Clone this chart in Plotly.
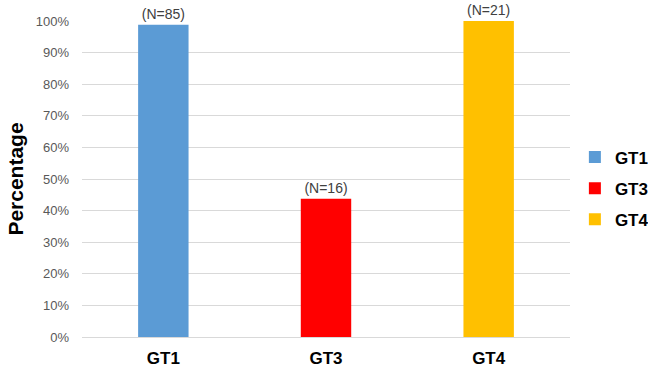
import plotly.graph_objects as go

categories = ["GT1", "GT3", "GT4"]
values = [0.988, 0.4375, 1.0]
labels = ["(N=85)", "(N=16)", "(N=21)"]
colors = ["#5B9BD5", "#FF0000", "#FFC000"]

fig = go.Figure()
for c, v, t, col in zip(categories, values, labels, colors):
    fig.add_trace(go.Bar(
        x=[c], y=[v], name="<b>" + c + "</b>", marker=dict(color=col, line=dict(width=0)),
        width=0.31, text=[t], textposition="outside", cliponaxis=False,
        textfont=dict(size=14, color="#404040", family="Liberation Sans"),
        offsetgroup="a", legendgroup=c,
    ))

fig.update_layout(
    width=648, height=371,
    margin=dict(l=82, r=78, t=21, b=34, autoexpand=False),
    plot_bgcolor="white", paper_bgcolor="white",
    barmode="overlay",
    font=dict(family="Liberation Sans", color="#000000"),
    showlegend=True,
    legend=dict(x=1.01, y=0.47, xanchor="left", yanchor="middle",
                font=dict(size=17, color="#000000", family="Liberation Sans"),
                itemwidth=30, tracegroupgap=6, traceorder="grouped",
                bgcolor="rgba(0,0,0,0)"),
)
fig.update_xaxes(
    categoryorder="array", categoryarray=categories,
    tickfont=dict(size=17, color="#000000", family="Liberation Sans"),
    tickprefix="<b>", ticksuffix="</b>",
    showline=True, linecolor="#d9d9d9", linewidth=1,
    ticks="", ticklabelstandoff=6,
)
fig.update_yaxes(
    range=[0, 1.0], dtick=0.1, tickformat=".0%",
    tickfont=dict(size=13, color="#595959", family="Liberation Sans"),
    showgrid=True, gridcolor="#d9d9d9", gridwidth=1,
    zeroline=False, showline=False, ticklabelstandoff=12,
    title=dict(text="<b>Percentage</b>", font=dict(size=21, color="#000000", family="Liberation Sans"), standoff=6),
)
fig.write_html("out.html")
